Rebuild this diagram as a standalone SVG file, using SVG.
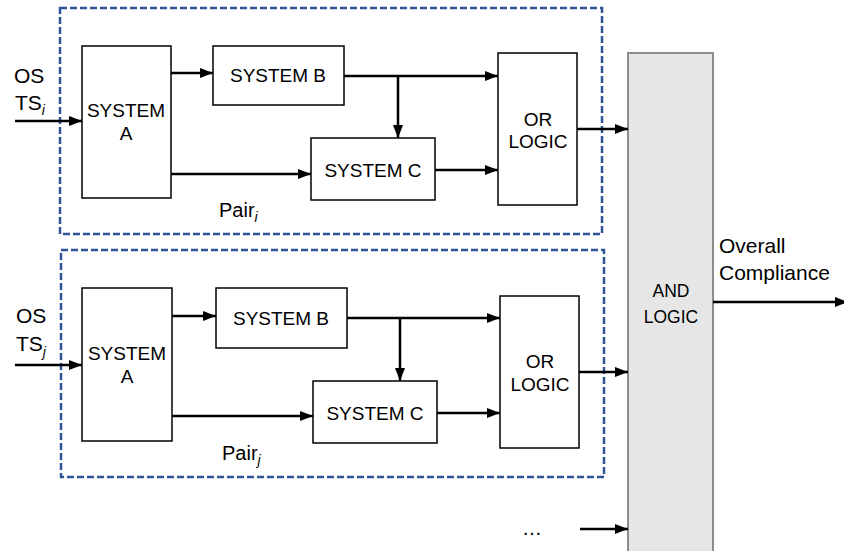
<svg xmlns="http://www.w3.org/2000/svg" width="844" height="551" viewBox="0 0 844 551">
<defs>
<marker id="ah" markerUnits="userSpaceOnUse" markerWidth="14" markerHeight="12" refX="13" refY="6" orient="auto">
<path d="M0,1 L13,6 L0,11 Z" fill="#000"/>
</marker>
<style>
text{font-family:"Liberation Sans",Arial,sans-serif;fill:#000}
.box{fill:#fff;stroke:#000;stroke-width:1.5}
.pair{fill:none;stroke:#2F5597;stroke-width:2.5;stroke-dasharray:7 3}
.and{fill:#e6e6e6;stroke:#8c8c8c;stroke-width:2}
.c{stroke:#000;stroke-width:2.5;fill:none}
.a{marker-end:url(#ah)}
.t19{font-size:19px;text-anchor:middle}
.t21{font-size:21px}
.sub{font-size:14px;font-style:italic}
</style>
</defs>
<rect width="844" height="551" fill="#fff"/>

<g id="and-logic">
<rect class="and" x="628" y="53" width="85" height="510"/>
<text x="671" y="297" style="font-size:17.5px;text-anchor:middle">AND</text>
<text x="671" y="323" style="font-size:17.5px;text-anchor:middle">LOGIC</text>
</g>

<g id="pair-i">
<rect class="pair" x="60" y="8" width="542" height="226"/>
<text class="t21" x="219" y="217" style="font-size:20px">Pair<tspan class="sub" dy="5">i</tspan></text>
</g>
<g id="pair-j">
<rect class="pair" x="61" y="250" width="543" height="227"/>
<text class="t21" x="222" y="460" style="font-size:20px">Pair<tspan class="sub" dy="5">j</tspan></text>
</g>

<g id="input-i">
<text class="t21" x="14" y="83">OS</text>
<text class="t21" x="15" y="110">TS<tspan class="sub" dy="5">i</tspan></text>
</g>
<g id="input-j">
<text class="t21" x="16" y="323">OS</text>
<text class="t21" x="16" y="351">TS<tspan class="sub" dy="6">j</tspan></text>
</g>

<g id="system-a-i">
<rect class="box" x="82" y="46" width="89" height="152"/>
<text class="t19" x="126" y="117">SYSTEM</text>
<text class="t19" x="126" y="140">A</text>
</g>
<g id="system-b-i">
<rect class="box" x="213" y="46" width="131" height="59"/>
<text class="t19" x="278" y="82">SYSTEM B</text>
</g>
<g id="system-c-i">
<rect class="box" x="311" y="138" width="124" height="62"/>
<text class="t19" x="373" y="177">SYSTEM C</text>
</g>
<g id="or-logic-i">
<rect class="box" x="498" y="53" width="79" height="152"/>
<text class="t19" x="538" y="126">OR</text>
<text class="t19" x="538" y="148">LOGIC</text>
</g>

<g id="system-a-j">
<rect class="box" x="82" y="288" width="90" height="153"/>
<text class="t19" x="127" y="360">SYSTEM</text>
<text class="t19" x="127" y="383">A</text>
</g>
<g id="system-b-j">
<rect class="box" x="216" y="288" width="131" height="60"/>
<text class="t19" x="281" y="325">SYSTEM B</text>
</g>
<g id="system-c-j">
<rect class="box" x="313" y="381" width="124" height="62"/>
<text class="t19" x="375" y="420">SYSTEM C</text>
</g>
<g id="or-logic-j">
<rect class="box" x="500" y="296" width="79" height="152"/>
<text class="t19" x="540" y="368">OR</text>
<text class="t19" x="540" y="391">LOGIC</text>
</g>

<g id="output">
<text class="t21" x="719" y="253">Overall</text>
<text class="t21" x="719" y="280">Compliance</text>
</g>
<g id="more">
<text x="522" y="535" style="font-size:20px">…</text>
</g>

<g id="connectors">
<line class="c a" x1="15" y1="121" x2="82" y2="121"/>
<line class="c a" x1="171" y1="73" x2="213" y2="73"/>
<line class="c a" x1="344" y1="76" x2="498" y2="76"/>
<line class="c a" x1="398" y1="76" x2="398" y2="138"/>
<line class="c a" x1="171" y1="174" x2="311" y2="174"/>
<line class="c a" x1="435" y1="170" x2="498" y2="170"/>
<line class="c a" x1="577" y1="129" x2="628" y2="129"/>

<line class="c a" x1="15" y1="365" x2="82" y2="365"/>
<line class="c a" x1="172" y1="316" x2="216" y2="316"/>
<line class="c a" x1="347" y1="318" x2="500" y2="318"/>
<line class="c a" x1="400" y1="318" x2="400" y2="381"/>
<line class="c a" x1="172" y1="416" x2="313" y2="416"/>
<line class="c a" x1="437" y1="413" x2="500" y2="413"/>
<line class="c a" x1="579" y1="372" x2="628" y2="372"/>

<line class="c a" x1="580" y1="529" x2="628" y2="529"/>
<line class="c a" x1="713" y1="302" x2="848" y2="302"/>
</g>
</svg>
